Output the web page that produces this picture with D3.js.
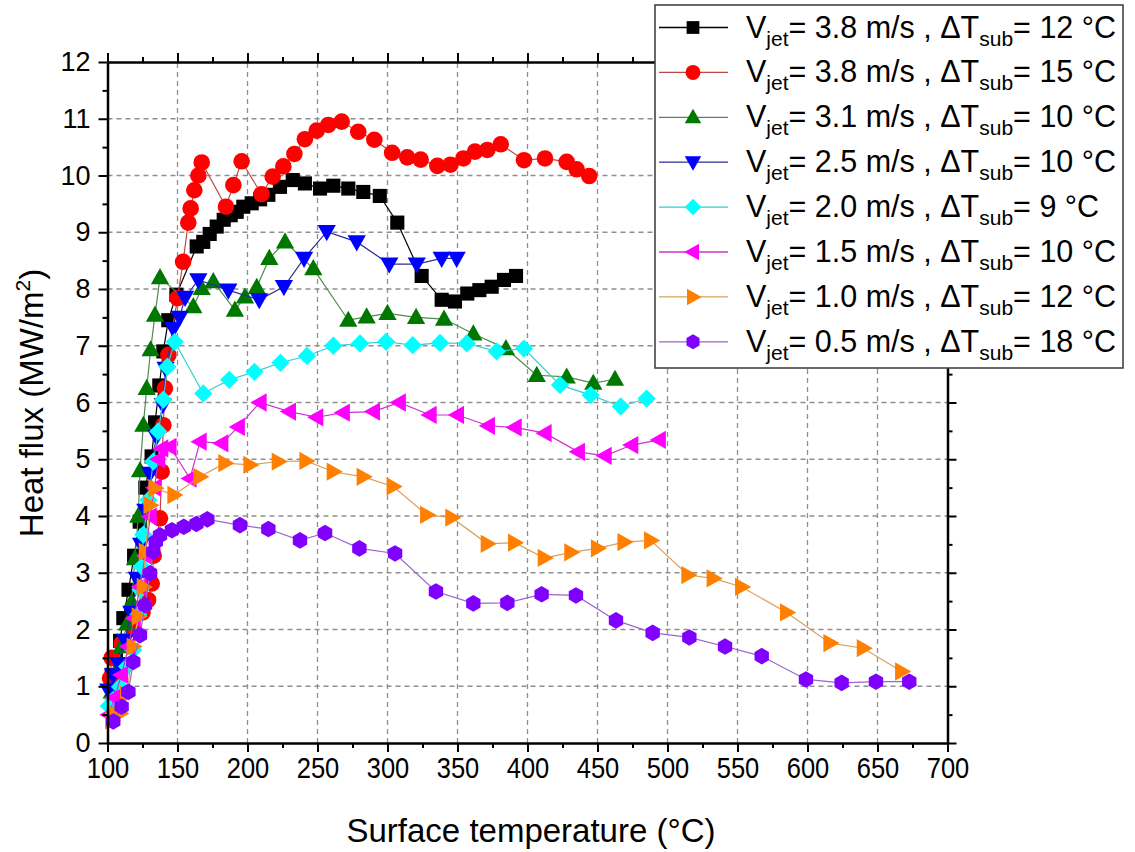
<!DOCTYPE html>
<html>
<head>
<meta charset="utf-8">
<script src="https://cdn.jsdelivr.net/npm/d3@7"></script>
<style>
  body { margin: 0; background: #fff; }
  svg { font-family: "Liberation Sans", Arial, sans-serif; }
</style>
</head>
<body>
<svg id="chart" width="1135" height="852"></svg>
<script>
// surface temperature (°C), heat flux (MW/m2)
var v38_dt12 = [[103,1.2],[106,1.5],[109,1.8],[111.3,2.2],[115,2.7],[119,3.3],[123,3.9],[127,4.5],[131.5,5.05],[134,5.65],[137,6.3],[139.9,6.9],[143.4,7.45],[149.2,7.9],[163.7,8.75],[168.4,8.83],[173,8.97],[178,9.1],[183,9.22],[188,9.3],[192.3,9.36],[197,9.45],[203,9.51],[209,9.58],[214.9,9.66],[223.2,9.8],[232.3,9.92],[241,9.86],[251.8,9.77],[261.3,9.82],[272,9.77],[282.7,9.71],[294.5,9.64],[307,9.17],[324.4,8.23],[338.7,7.81],[348.2,7.78],[357,7.92],[365.6,7.98],[374.4,8.04],[383.2,8.16],[391.8,8.23]];
var v38_dt15 = [[101.8,1.14],[103,1.5],[110,1.75],[118,2.02],[125,2.3],[129,2.52],[131.6,2.81],[133,3.3],[137.5,3.96],[138.7,4.78],[139.9,5.6],[141,6.25],[143.5,6.84],[150,7.84],[154,8.48],[157.7,9.17],[159.4,9.42],[162,9.74],[164.9,10.0],[167.3,10.23],[184.6,9.45],[189.9,9.83],[195.8,10.25],[210,9.67],[218,9.98],[225.6,10.16],[233.5,10.38],[241,10.64],[249.4,10.79],[257.7,10.89],[267.3,10.95],[279.1,10.77],[290.6,10.63],[303.3,10.4],[314.1,10.32],[323.7,10.28],[335.6,10.17],[345,10.19],[354.2,10.3],[362.5,10.42],[371.3,10.45],[380.9,10.55],[397.5,10.27],[412.5,10.3],[428,10.24],[435.1,10.11],[444.1,9.99]];
var v31_dt10 = [[103,0.9],[107,1.3],[110,1.7],[114,2.1],[117.3,2.49],[119.6,3.25],[122,4.0],[123.2,4.8],[125.6,5.6],[128,6.25],[130.8,6.93],[133.9,7.54],[137.5,8.2],[161.3,7.69],[167.3,8.01],[175.6,8.13],[191,7.63],[198.2,7.86],[206.6,8.03],[215.6,8.54],[226.8,8.83],[247,8.36],[272,7.45],[285.1,7.51],[300,7.57],[320.4,7.5],[340.4,7.47],[361.3,7.21],[384.6,6.95],[406.6,6.48],[428,6.45],[447,6.34],[462.5,6.41]];
var v25_dt10 = [[100.6,0.93],[104,1.2],[107.7,1.4],[112.5,1.81],[117,2.3],[121,2.9],[124,3.5],[127,4.1],[130.4,4.75],[135,5.4],[139.5,5.96],[141.5,6.6],[147,7.3],[151.5,7.5],[155.4,7.85],[164.9,8.16],[186.3,7.98],[208.4,7.81],[226,8.04],[240.4,8.54],[256.6,9.01],[278,8.83],[301.3,8.44],[320.9,8.44],[338.7,8.54],[349.4,8.54]];
var v20_dt9 = [[101,0.65],[104.1,0.76],[108.9,0.99],[114,1.35],[118.4,1.64],[122,2.26],[123.5,2.7],[124.5,3.11],[125.6,3.67],[129.2,4.28],[132.7,4.96],[136.3,5.49],[139.9,6.05],[142.8,6.63],[148,7.07],[168.4,6.16],[187,6.4],[205,6.54],[223.5,6.7],[242.5,6.82],[261.3,7.0],[280.4,7.04],[299,7.07],[318,7.01],[337.5,7.05],[356.6,7.04],[378,6.9],[397.5,6.95],[423.2,6.31],[445.1,6.13],[466.6,5.93],[485.1,6.07]];
var v15_dt10 = [[101,0.5],[105,0.8],[110,1.2],[115,1.7],[119,2.2],[123.2,2.75],[127,3.3],[130.5,3.99],[133.5,4.5],[136.5,5.0],[138.7,5.19],[144.6,5.22],[158.9,4.66],[166.1,5.31],[181.6,5.28],[193.4,5.57],[208.9,6.0],[229.9,5.84],[249.4,5.74],[268.4,5.82],[289.9,5.84],[308.4,6.0],[330.4,5.78],[349.9,5.78],[372,5.59],[391.1,5.56],[412.5,5.46],[436.3,5.13],[455.4,5.06],[474.4,5.25],[494.1,5.34]];
var v10_dt12 = [[103,0.4],[106,0.5],[108.9,0.52],[113.7,0.85],[118.4,1.7],[122,2.23],[125.6,2.75],[127,3.37],[130.4,4.19],[134,4.49],[147.5,4.37],[166,4.69],[183.9,4.93],[201.8,4.9],[222,4.96],[241.8,4.97],[261.3,4.78],[282.7,4.69],[304.1,4.52],[328,4.02],[346,3.97],[371.3,3.51],[390.8,3.53],[412,3.26],[431,3.36],[450,3.43],[469,3.54],[488,3.57],[514.6,2.96],[532.7,2.9],[553,2.75],[585.1,2.3],[616.1,1.76],[639.9,1.67],[667.3,1.26]];
var v05_dt18 = [[104.1,0.38],[110.1,0.64],[114.9,0.9],[118.4,1.43],[123.2,1.9],[126.8,2.43],[130.4,2.99],[132.7,3.37],[134.5,3.55],[137.5,3.66],[146,3.75],[154.5,3.81],[163.5,3.86],[171.3,3.94],[194.6,3.84],[214.9,3.77],[237.5,3.57],[255.4,3.7],[279.9,3.43],[305.4,3.34],[334.6,2.67],[361.3,2.46],[385.6,2.47],[410.1,2.62],[434.6,2.6],[463.2,2.16],[489.4,1.94],[515.6,1.86],[541.1,1.7],[567.3,1.53],[598.9,1.12],[624.4,1.06],[648.9,1.08],[672.7,1.08]];

var speeds = ["3.8", "3.8", "3.1", "2.5", "2.0", "1.5", "1.0", "0.5"];
var subcool = ["12", "15", "10", "10", "9", "10", "12", "18"];
var xTicks = [100,150,200,250,300,350,400,450,500,550,600,650,700];
var yTicks = [0,1,2,3,4,5,6,7,8,9,10,11,12];

var allSeries = [v38_dt12, v38_dt15, v31_dt10, v25_dt10, v20_dt9, v15_dt10, v10_dt12, v05_dt18];
var fills = ["#000000", "#ff0000", "#007800", "#0000ff", "#00ffff", "#ff00ff", "#ff8000", "#7f00ff"];
var lineCols = ["#000000", "#c04848", "#4f8a4f", "#2d2d9a", "#33cccc", "#cc33cc", "#d9a05a", "#9966cc"];
var shapes = ["square", "circle", "up", "down", "diamond", "left", "right", "hex"];

var svg = d3.select("#chart");
var x = d3.scaleLinear().domain([100, 700]).range([107.5, 947.5]);
var y = d3.scaleLinear().domain([0, 12]).range([743, 62]);

function marker(shape, r) {
  var p;
  if (shape == "square") { var h = r * 0.85; return "M" + -h + "," + -h + "H" + h + "V" + h + "H" + -h + "Z"; }
  if (shape == "circle") return "M" + r + ",0A" + r + "," + r + " 0 1,1 " + -r + ",0A" + r + "," + r + " 0 1,1 " + r + ",0Z";
  if (shape == "up") p = [[0, -r * 1.15], [r * 1.1, r * 0.8], [-r * 1.1, r * 0.8]];
  if (shape == "down") p = [[0, r * 1.15], [r * 1.1, -r * 0.8], [-r * 1.1, -r * 0.8]];
  if (shape == "left") p = [[-r * 1.15, 0], [r * 0.8, r * 1.1], [r * 0.8, -r * 1.1]];
  if (shape == "right") p = [[r * 1.15, 0], [-r * 0.8, r * 1.1], [-r * 0.8, -r * 1.1]];
  if (shape == "diamond") p = [[0, -r * 1.1], [r * 1.1, 0], [0, r * 1.1], [-r * 1.1, 0]];
  if (shape == "hex") p = d3.range(6).map(function(i) { var a = Math.PI / 3 * i - Math.PI / 2; return [r * Math.cos(a), r * Math.sin(a)]; });
  return "M" + p.join("L") + "Z";
}

// grid
var grid = svg.append("g");
grid.selectAll(".gx").data(xTicks.slice(1, -1)).enter().append("line")
  .attr("x1", function(d) { return x(d); }).attr("x2", function(d) { return x(d); })
  .attr("y1", y(0)).attr("y2", y(12));
grid.selectAll(".gy").data(yTicks.slice(1, -1)).enter().append("line")
  .attr("y1", function(d) { return y(d); }).attr("y2", function(d) { return y(d); })
  .attr("x1", x(100)).attr("x2", x(700));
grid.selectAll("line").attr("stroke", "#8f8f8f").attr("stroke-width", 1.3).attr("stroke-dasharray", "5,4");

// series
var line = d3.line().x(function(d) { return x(d[0]); }).y(function(d) { return y(d[1]); });
allSeries.forEach(function(s, i) {
  var g = svg.append("g");
  g.append("path").attr("d", line(s)).attr("fill", "none")
    .attr("stroke", lineCols[i]).attr("stroke-width", 1.2);
  g.selectAll("path.m").data(s).enter().append("path").attr("class", "m")
    .attr("d", marker(shapes[i], 8.3))
    .attr("transform", function(d) { return "translate(" + x(d[0]) + "," + y(d[1]) + ")"; })
    .attr("fill", fills[i]);
});

// axes
var minorX = d3.range(125, 700, 50), minorY = d3.range(0.5, 12, 1);
function styleAxis(g) {
  g.select(".domain").attr("stroke-width", 2.5);
  g.selectAll(".tick line").attr("stroke-width", 2);
}
svg.append("g").attr("transform", "translate(0," + y(0) + ")")
  .call(d3.axisBottom(x).tickValues(xTicks).tickSize(9).tickSizeOuter(0).tickPadding(5).tickFormat(d3.format("d")))
  .call(styleAxis)
  .call(function(g) {
    g.selectAll("text").attr("font-size", 29).attr("fill", "#000")
      .attr("transform", "scale(0.88,1)");
  });
svg.append("g").attr("transform", "translate(0," + y(0) + ")")
  .call(d3.axisBottom(x).tickValues(minorX).tickSize(5).tickFormat("")).call(styleAxis)
  .select(".domain").remove();
svg.append("g").attr("transform", "translate(0," + y(12) + ")")
  .call(d3.axisTop(x).tickValues(xTicks).tickSize(9).tickSizeOuter(0).tickFormat("")).call(styleAxis);
svg.append("g").attr("transform", "translate(0," + y(12) + ")")
  .call(d3.axisTop(x).tickValues(minorX).tickSize(5).tickFormat("")).call(styleAxis)
  .select(".domain").remove();
svg.append("g").attr("transform", "translate(" + x(100) + ",0)")
  .call(d3.axisLeft(y).tickValues(yTicks).tickSize(9).tickSizeOuter(0).tickPadding(8))
  .call(styleAxis)
  .call(function(g) { g.selectAll("text").attr("font-size", 27).attr("fill", "#000"); });
svg.append("g").attr("transform", "translate(" + x(100) + ",0)")
  .call(d3.axisLeft(y).tickValues(minorY).tickSize(5).tickFormat("")).call(styleAxis)
  .select(".domain").remove();
svg.append("g").attr("transform", "translate(" + x(700) + ",0)")
  .call(d3.axisRight(y).tickValues(yTicks).tickSize(9).tickSizeOuter(0).tickFormat("")).call(styleAxis);
svg.append("g").attr("transform", "translate(" + x(700) + ",0)")
  .call(d3.axisRight(y).tickValues(minorY).tickSize(5).tickFormat("")).call(styleAxis)
  .select(".domain").remove();

// axis titles
svg.append("text").attr("x", 531).attr("y", 842).attr("text-anchor", "middle")
  .attr("font-size", 33).text("Surface temperature (°C)");
var yt = svg.append("text").attr("transform", "translate(43,403) rotate(-90)")
  .attr("text-anchor", "middle").attr("font-size", 33);
yt.append("tspan").text("Heat flux (MW/m");
yt.append("tspan").attr("font-size", 21).attr("dy", -13).text("2");
yt.append("tspan").attr("dy", 13).text(")");

// legend
var lg = svg.append("g");
lg.append("rect").attr("x", 655).attr("y", 5).attr("width", 468).attr("height", 363)
  .attr("fill", "#fff").attr("stroke", "#444").attr("stroke-width", 1.6);
speeds.forEach(function(v, i) {
  var cy = 27.5 + i * 44.9;
  lg.append("line").attr("x1", 659).attr("x2", 728).attr("y1", cy).attr("y2", cy)
    .attr("stroke", lineCols[i]).attr("stroke-width", 1.3);
  lg.append("path").attr("d", marker(shapes[i], 7.5))
    .attr("transform", "translate(693," + cy + ")").attr("fill", fills[i]);
  var t = lg.append("text").attr("x", 746).attr("y", cy + 10).attr("font-size", 30.5);
  t.append("tspan").text("V");
  t.append("tspan").attr("font-size", 21).attr("dy", 8).text("jet");
  t.append("tspan").attr("dy", -8).text("= " + v + " m/s , \u0394T");
  t.append("tspan").attr("font-size", 21).attr("dy", 8).text("sub");
  t.append("tspan").attr("dy", -8).text("= " + subcool[i] + " \u00B0C");
});
</script>
</body>
</html>
